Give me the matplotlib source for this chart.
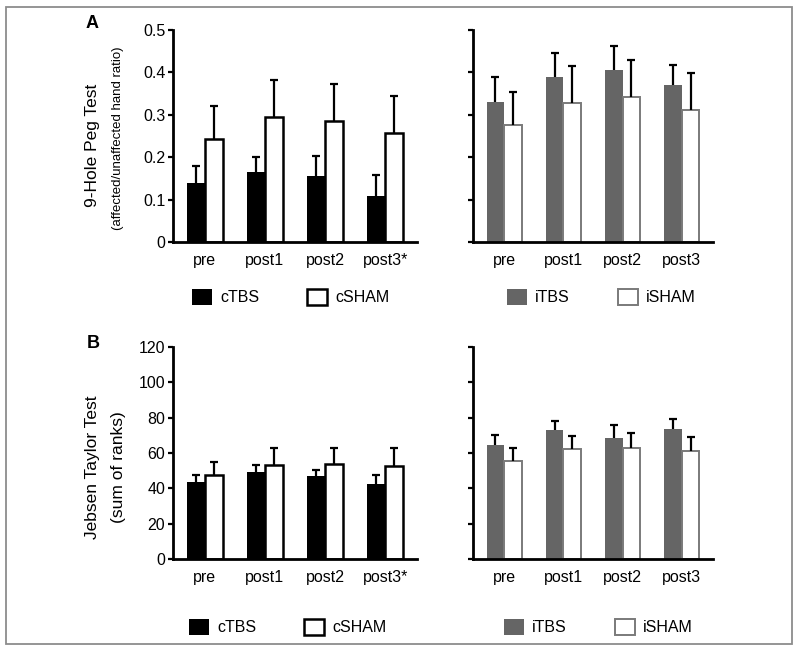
import matplotlib
matplotlib.use("Agg")
import matplotlib.pyplot as plt
import matplotlib.patches as mpatches
import numpy as np

plt.rcParams['font.family'] = ['Liberation Sans', 'DejaVu Sans']

# datos
categorias_c = ['pre', 'post1', 'post2', 'post3*']
categorias_i = ['pre', 'post1', 'post2', 'post3']

# A: 9-Hole Peg Test (ratio)
peg_ctbs = [0.140, 0.165, 0.156, 0.109]
peg_ctbs_err = [0.039, 0.035, 0.048, 0.048]
peg_csham = [0.242, 0.294, 0.285, 0.256]
peg_csham_err = [0.079, 0.087, 0.087, 0.088]
peg_itbs = [0.331, 0.388, 0.406, 0.370]
peg_itbs_err = [0.059, 0.057, 0.057, 0.047]
peg_isham = [0.276, 0.327, 0.342, 0.312]
peg_isham_err = [0.078, 0.087, 0.087, 0.087]

# B: Jebsen Taylor Test (sum of ranks)
jt_ctbs = [43.4, 49.0, 47.0, 42.3]
jt_ctbs_err = [4.1, 4.0, 3.4, 5.2]
jt_csham = [47.5, 53.4, 54.0, 52.8]
jt_csham_err = [7.5, 9.4, 8.8, 10.0]
jt_itbs = [64.4, 73.0, 68.7, 73.8]
jt_itbs_err = [6.0, 5.0, 7.0, 5.2]
jt_isham = [55.5, 62.0, 62.6, 61.3]
jt_isham_err = [7.5, 7.4, 8.5, 7.9]

W, H = 800, 651
GRIS = '#656565'
GRIS_BORDE = '#7a7a7a'
FS = 11.5


def caja(x0, y0, x1, y1):
    # pixeles (origen arriba-izquierda) -> coordenadas de figura
    return [x0 / W, 1 - y1 / H, (x1 - x0) / W, (y1 - y0) / H]


def panel(fig, rect, cats, v1, e1, v2, e2, estilo1, estilo2, nombres, ylim, yticks, ytlabels, leyenda_xy):
    ax = fig.add_axes(rect)
    x = np.arange(len(cats))
    ancho = 0.3
    b1 = ax.bar(x - ancho / 2, v1, ancho, zorder=2, **estilo1)
    b2 = ax.bar(x + ancho / 2, v2, ancho, zorder=2, **estilo2)
    for desp, v, e in ((-ancho / 2, v1, e1), (ancho / 2, v2, e2)):
        _, caps, _ = ax.errorbar(x + desp, v, yerr=[np.zeros(len(v)), e], fmt='none', ecolor='black',
                                 elinewidth=1.6, capsize=2.8, capthick=1.6, zorder=3)
        # solo la barra superior, sin tapa abajo
        caps[0].set_visible(False)
    ax.set_xlim(-0.53, 3.53)
    ax.set_ylim(*ylim)
    ax.set_yticks(yticks)
    ax.set_yticklabels(ytlabels, fontsize=FS)
    ax.set_xticks(x)
    ax.set_xticklabels(cats, fontsize=FS)
    ax.tick_params(axis='x', length=0, pad=8)
    ax.tick_params(axis='y', direction='out', length=3.5, width=1.6, pad=2)
    for s in ('top', 'right'):
        ax.spines[s].set_visible(False)
    for s in ('left', 'bottom'):
        ax.spines[s].set_linewidth(2.0)
    ax.legend([b1, b2], nombres, ncol=2, frameon=False, loc='center left',
              bbox_to_anchor=(leyenda_xy[0] / W, 1 - leyenda_xy[1] / H),
              bbox_transform=fig.transFigure, fontsize=FS,
              handlelength=1.25, handleheight=1.25, handletextpad=0.5,
              columnspacing=3.0, borderpad=0, borderaxespad=0)
    return ax


fig = plt.figure(figsize=(W / 100, H / 100), dpi=100)
fig.patches.append(mpatches.Rectangle((6 / W, 1 - 644 / H), 786 / W, 637 / H,
                                      transform=fig.transFigure, fill=False,
                                      edgecolor='#8c8c8c', linewidth=1.3))

est_c1 = dict(color='black', edgecolor='black', linewidth=0)
est_c2 = dict(color='white', edgecolor='black', linewidth=1.8)
est_i1 = dict(color=GRIS, edgecolor=GRIS, linewidth=0)
est_i2 = dict(color='white', edgecolor=GRIS_BORDE, linewidth=1.4)

ticks_a = [0, 0.1, 0.2, 0.3, 0.4, 0.5]
labels_a = ['0', '0.1', '0.2', '0.3', '0.4', '0.5']
ticks_b = [0, 20, 40, 60, 80, 100, 120]
labels_b = [str(t) for t in ticks_b]

ax1 = panel(fig, caja(173, 30, 417, 242), categorias_c, peg_ctbs, peg_ctbs_err, peg_csham, peg_csham_err,
            est_c1, est_c2, ['cTBS', 'cSHAM'], (0, 0.5), ticks_a, labels_a, (192, 297))
ax2 = panel(fig, caja(473, 30, 713, 242), categorias_i, peg_itbs, peg_itbs_err, peg_isham, peg_isham_err,
            est_i1, est_i2, ['iTBS', 'iSHAM'], (0, 0.5), ticks_a, [''] * 6, (507, 297))
ax3 = panel(fig, caja(173, 347, 417, 559), categorias_c, jt_ctbs, jt_ctbs_err, jt_csham, jt_csham_err,
            est_c1, est_c2, ['cTBS', 'cSHAM'], (0, 120), ticks_b, labels_b, (189, 627))
ax4 = panel(fig, caja(473, 347, 713, 559), categorias_i, jt_itbs, jt_itbs_err, jt_isham, jt_isham_err,
            est_i1, est_i2, ['iTBS', 'iSHAM'], (0, 120), ticks_b, [''] * 7, (504, 627))

# etiquetas de eje y letras de panel
fig.text(93 / W, 1 - 145 / H, '9-Hole Peg Test', rotation=90, ha='center', va='center', fontsize=12.5)
fig.text(118 / W, 1 - 138 / H, '(affected/unaffected hand ratio)', rotation=90, ha='center', va='center', fontsize=9.5)
fig.text(93 / W, 1 - 467 / H, 'Jebsen Taylor Test', rotation=90, ha='center', va='center', fontsize=12.5)
fig.text(118 / W, 1 - 467 / H, '(sum of ranks)', rotation=90, ha='center', va='center', fontsize=12.5)
fig.text(92 / W, 1 - 23 / H, 'A', ha='center', va='center', fontsize=13, fontweight='bold')
fig.text(93 / W, 1 - 344 / H, 'B', ha='center', va='center', fontsize=13, fontweight='bold')

fig.savefig('out.png', dpi=100)
